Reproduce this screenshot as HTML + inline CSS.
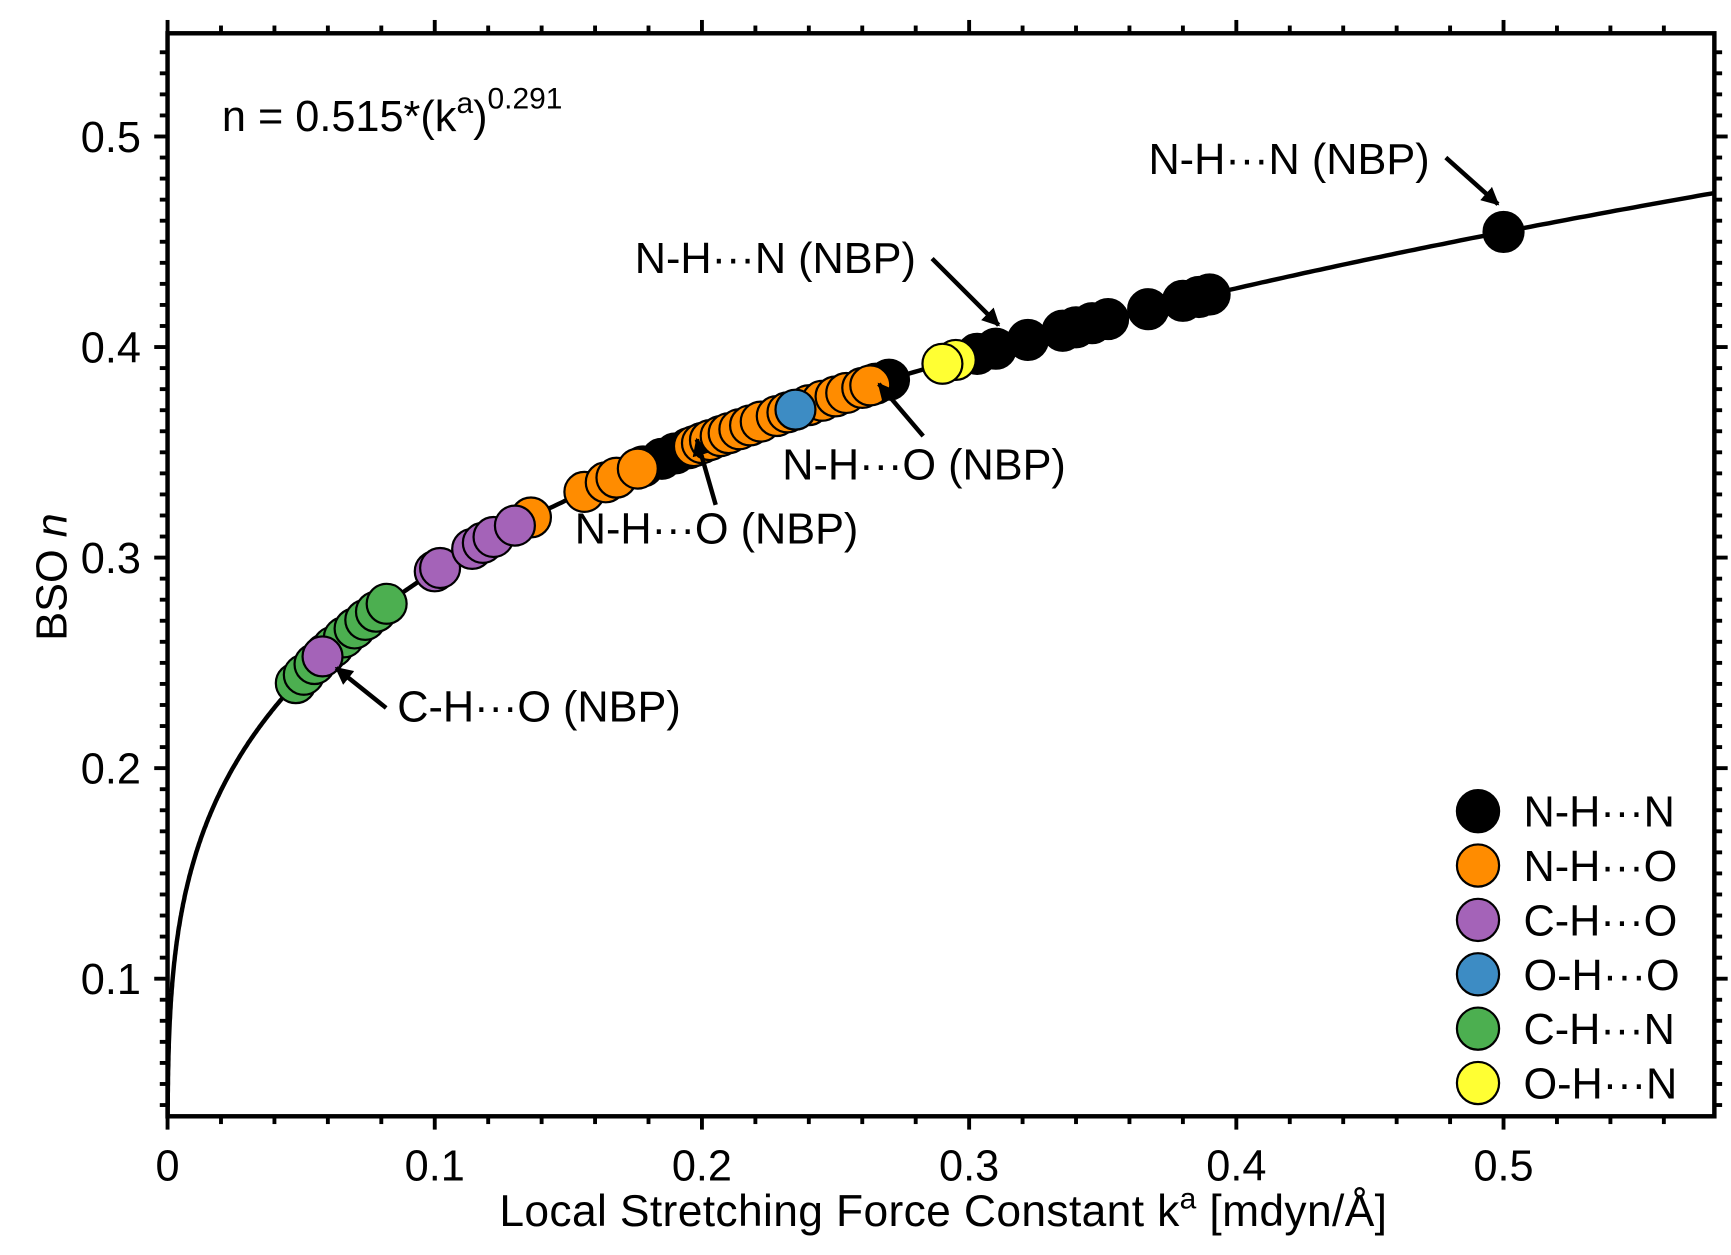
<!DOCTYPE html>
<html><head><style>html,body{margin:0;padding:0;background:#fff}svg{display:block}text{font-family:"Liberation Sans",sans-serif;fill:#000}</style></head>
<body>
<svg id="s" width="1731" height="1255" viewBox="0 0 1560 1131" preserveAspectRatio="none" xmlns="http://www.w3.org/2000/svg">
<defs>
<marker id="ah2" viewBox="0 0 10 10" markerWidth="16" markerHeight="16" refX="9" refY="5" orient="auto" markerUnits="userSpaceOnUse"><path d="M0,0 L10,5 L0,10 z" fill="#000"/></marker>
<clipPath id="cp"><rect x="151" y="30" width="1394" height="976"/></clipPath></defs>
<g id="ticks" stroke="#000" stroke-width="3.5"></g>
<path id="curve" fill="none" stroke="#000" stroke-width="4" clip-path="url(#cp)"/>
<g id="pts" stroke="#000" stroke-width="2"></g>
<rect x="151" y="30" width="1394" height="976" fill="none" stroke="#000" stroke-width="4"/>
<g font-size="39" text-anchor="middle" id="xl"></g>
<g font-size="39" text-anchor="end" id="yl"></g>
<text x="850" y="1105" font-size="40" text-anchor="middle" textLength="800">Local Stretching Force Constant k<tspan dy="-16" font-size="27">a</tspan><tspan dy="16"> [mdyn/Å]</tspan></text>
<text transform="translate(60,520) rotate(-90)" font-size="39" text-anchor="middle">BSO <tspan font-style="italic">n</tspan></text>
<text x="200" y="118" font-size="39">n = 0.515*(k<tspan dy="-16" font-size="27">a</tspan><tspan dy="16">)</tspan><tspan dy="-20" font-size="27">0.291</tspan></text>
<g font-size="39">
<text x="1035" y="157">N-H···N (NBP)</text>
<text x="572" y="246">N-H···N (NBP)</text>
<text x="705" y="432">N-H···O (NBP)</text>
<text x="518" y="490">N-H···O (NBP)</text>
<text x="358" y="650">C-H···O (NBP)</text>
</g>
<g stroke="#000" stroke-width="4" marker-end="url(#ah2)">
<line x1="1303" y1="142" x2="1350" y2="184"/>
<line x1="840" y1="233" x2="900" y2="293"/>
<line x1="832" y1="393" x2="792" y2="346"/>
<line x1="645" y1="455" x2="628" y2="396"/>
<line x1="348" y1="638" x2="303" y2="602"/>
</g>
<g id="leg" font-size="39"></g>
</svg>
<script>
var NS="http://www.w3.org/2000/svg";
function el(t,a,p){var e=document.createElementNS(NS,t);for(var k in a)e.setAttribute(k,a[k]);document.getElementById(p).appendChild(e);return e;}
function X(k){return 151+k*2408;}function Y(n){return 123-(n-0.5)*1897.5;}
function N(k){return 0.549*Math.pow(k,0.272);}
var d="";for(var i=0;i<=600;i++){var k=Math.max(0.00002,0.58*Math.pow(i/600,2.5));d+=(i?"L":"M")+X(k).toFixed(1)+","+Y(N(k)).toFixed(1);}
document.getElementById("curve").setAttribute("d",d);
for(var i=0;i<=29;i++){var k=i*0.02,x=X(k);if(x>1546)break;var L=(i%5==0)?12:7;el("line",{x1:x,y1:1006,x2:x,y2:1006+L},"ticks");el("line",{x1:x,y1:30,x2:x,y2:30-L},"ticks");if(i%5==0){var t=el("text",{x:x,y:1064},"xl");t.textContent=(i==0?"0":(k).toFixed(1));}}
for(var i=4;i<=54;i++){var n=i*0.01,y=Y(n);if(y<30||y>1006)continue;var L=(i%10==0)?12:7;el("line",{x1:151,y1:y,x2:151-L,y2:y},"ticks");el("line",{x1:1545,y1:y,x2:1545+L,y2:y},"ticks");if(i%10==0){var t=el("text",{x:127,y:y+14},"yl");t.textContent=n.toFixed(1);}}
var C={k:"#000",o:"#ff8c00",p:"#a463b8",b:"#3d8cc4",g:"#4caf50",y:"#ffff33"};
var P=[["k",[0.178,0.185,0.19,0.195,0.2,0.265,0.27,0.303,0.31,0.322,0.335,0.34,0.346,0.352,0.367,0.38,0.386,0.39,0.5]],
["o",[0.136,0.156,0.164,0.168,0.176,0.197,0.2,0.203,0.207,0.21,0.214,0.218,0.222,0.228,0.232,0.24,0.245,0.25,0.254,0.26,0.263]],
["g",[0.048,0.051,0.055,0.059,0.062,0.066,0.07,0.074,0.078,0.082]],
["p",[0.1,0.102,0.114,0.118,0.122,0.13,0.058]],
["b",[0.235]],["y",[0.295,0.29]]];
P.forEach(function(s){s[1].forEach(function(k){el("circle",{cx:X(k),cy:Y(N(k)),r:18,fill:C[s[0]]},"pts");});});
var lg=[["k","N-H···N"],["o","N-H···O"],["p","C-H···O"],["b","O-H···O"],["g","C-H···N"],["y","O-H···N"]];
lg.forEach(function(l,i){var y=731+i*49;el("circle",{cx:1332,cy:y,r:19,fill:C[l[0]],stroke:"#000","stroke-width":2},"leg");var t=el("text",{x:1373,y:y+14},"leg");t.textContent=l[1];});
</script>
</body></html>
